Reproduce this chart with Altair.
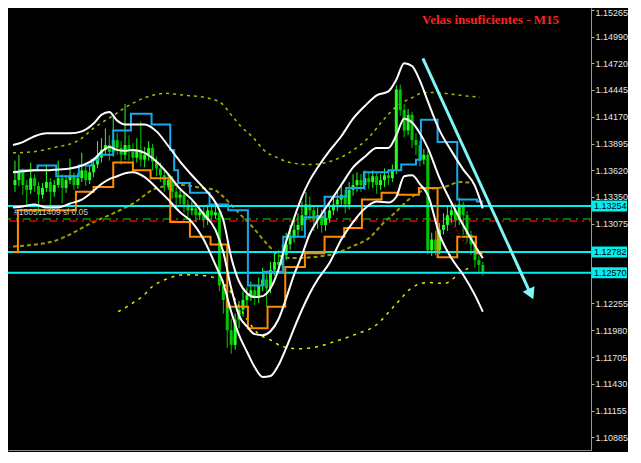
import altair as alt
import pandas as pd

# ---------------- data ----------------
closes = [1.1352,1.1360,1.1347,1.1342,1.1354,1.1346,1.1337,1.1344,1.1350,1.1340,1.1347,1.1354,1.1344,
          1.1352,1.1357,1.1347,1.1354,1.1362,1.1352,1.1360,
          1.1368,1.1375,1.1383,1.1388,1.1381,1.1393,1.1385,1.1378,1.1388,1.1383,
          1.1375,1.1383,1.1373,1.1378,1.1385,1.1371,
          1.1364,1.1357,1.1347,1.1352,1.1340,1.1334,1.1337,
          1.1327,1.1321,1.1323,1.1316,1.1319,1.1311,1.1321,1.1316,1.1319,
          1.1244,
          1.1229,1.1198,1.1183,1.1209,1.1219,1.1229,
          1.1234,1.1239,1.1231,1.1244,1.1250,1.1241,
          1.1260,1.1268,1.1265,1.1275,1.1286,1.1293,
          1.1301,1.1306,1.1316,1.1327,1.1321,1.1311,1.1316,1.1306,
          1.1313,1.1321,1.1327,1.1332,1.1337,1.1327,1.1342,1.1347,
          1.1352,1.1347,1.1354,1.1350,1.1356,1.1347,1.1352,1.1357,1.1354,1.1362,
          1.1445,
          1.1424,1.1403,1.1419,1.1393,1.1388,1.1373,1.1378,
          1.1280,
          1.1291,1.1280,1.1301,1.1306,
          1.1316,1.1321,1.1311,1.1327,1.1316,1.1296,
          1.1286,1.1270,1.1265,1.1258]
highs = [1.1372,1.1378,1.1364,1.1352,1.1370,1.1358,1.1350,1.1349,1.1368,1.1354,1.1352,1.1372,1.1358,
         1.1357,1.1374,1.1360,1.1359,1.1380,1.1366,1.1367,
         1.1375,1.1392,1.1395,1.1405,1.1398,1.1418,1.1400,1.1392,1.1430,1.1398,
         1.1390,1.1395,1.1412,1.1386,1.1392,1.1389,
         1.1376,1.1370,1.1362,1.1358,1.1356,1.1345,1.1342,
         1.1340,1.1332,1.1330,1.1328,1.1325,1.1324,1.1327,1.1326,1.1328,
         1.1322,
         1.1250,1.1235,1.1210,1.1215,1.1228,1.1238,
         1.1242,1.1248,1.1245,1.1252,1.1262,1.1256,
         1.1268,1.1278,1.1280,1.1286,1.1298,1.1306,
         1.1312,1.1318,1.1330,1.1340,1.1335,1.1326,1.1324,1.1322,
         1.1320,1.1330,1.1336,1.1342,1.1346,1.1342,1.1350,1.1358,
         1.1360,1.1358,1.1362,1.1360,1.1362,1.1360,1.1358,1.1364,1.1363,1.1368,
         1.1449,
         1.1450,1.1430,1.1425,1.1422,1.1400,1.1392,1.1384,
         1.1382,
         1.1298,1.1300,1.1308,1.1318,
         1.1325,1.1330,1.1328,1.1334,1.1330,1.1320,
         1.1300,1.1290,1.1275,1.1268]
lows = [1.1340,1.1346,1.1337,1.1325,1.1338,1.1340,1.1318,1.1333,1.1340,1.1322,1.1335,1.1344,1.1328,
        1.1339,1.1348,1.1342,1.1343,1.1350,1.1346,1.1348,
        1.1355,1.1364,1.1370,1.1378,1.1372,1.1376,1.1378,1.1368,1.1373,1.1372,
        1.1366,1.1370,1.1366,1.1365,1.1372,1.1362,
        1.1356,1.1350,1.1340,1.1342,1.1333,1.1326,1.1327,
        1.1319,1.1314,1.1316,1.1309,1.1311,1.1303,1.1306,1.1310,1.1312,
        1.1238,
        1.1215,1.1180,1.1174,1.1178,1.1200,1.1212,
        1.1222,1.1228,1.1224,1.1226,1.1238,1.1222,
        1.1236,1.1254,1.1258,1.1260,1.1270,1.1280,
        1.1288,1.1294,1.1300,1.1310,1.1314,1.1300,1.1302,1.1298,
        1.1300,1.1308,1.1316,1.1320,1.1326,1.1318,1.1322,1.1336,
        1.1340,1.1340,1.1342,1.1343,1.1344,1.1338,1.1342,1.1345,1.1347,1.1350,
        1.1358,
        1.1418,1.1396,1.1398,1.1385,1.1378,1.1366,1.1368,
        1.1276,
        1.1274,1.1275,1.1276,1.1296,
        1.1300,1.1308,1.1304,1.1306,1.1296,1.1288,
        1.1275,1.1262,1.1256,1.1254]
first_open = 1.1347

# band (white) lines on a common bar grid
band_bar = [-0.5,2,5,8,11,14,17,20, 22,24,26,28,30, 33,36,39,42,45,48,51,
            53,55,57,59,61,63,65,67,69,71,73,75,77, 80,83,86,89,92,95,
            97,99,101,103,105, 108,111,114,117,119]
band_up = [1.1388,1.1391,1.1397,1.1400,1.1400,1.1400,1.1402,1.1410,
           1.1419,1.1422,1.1413,1.1409,1.1409,
           1.1409,1.1402,1.1387,1.1371,1.1357,1.1344,1.1329,
           1.1311,1.1273,1.1248,1.1236,1.1232,1.1233,1.1241,1.1260,1.1289,1.1313,1.1335,1.1352,1.1365,
           1.1382,1.1397,1.1415,1.1428,1.1439,1.1443,
           1.1455,1.1472,1.1469,1.1454,1.1433,
           1.1403,1.1382,1.1363,1.1346,1.1323]
band_mid = [1.1360,1.1361,1.1362,1.1362,1.1363,1.1364,1.1367,1.1373,
            1.1381,1.1386,1.1383,1.1382,1.1383,
            1.1380,1.1371,1.1358,1.1343,1.1332,1.1317,1.1301,
            1.1278,1.1241,1.1213,1.1202,1.1194,1.1193,1.1197,1.1209,1.1231,1.1255,1.1275,1.1297,1.1311,
            1.1329,1.1347,1.1365,1.1376,1.1385,1.1385,
            1.1398,1.1415,1.1411,1.1400,1.1385,
            1.1354,1.1329,1.1306,1.1285,1.1272]
band_low = [1.1324,1.1325,1.1327,1.1324,1.1324,1.1328,1.1332,1.1341,
            1.1348,1.1353,1.1356,1.1359,1.1360,
            1.1355,1.1344,1.1332,1.1319,1.1309,1.1291,1.1265,
            1.1246,1.1217,1.1193,1.1176,1.1160,1.1150,1.1151,1.1162,1.1180,1.1200,1.1219,1.1236,1.1250,
            1.1267,1.1291,1.1309,1.1323,1.1330,1.1329,
            1.1335,1.1356,1.1357,1.1348,1.1337,
            1.1296,1.1272,1.1255,1.1234,1.1217]

# blue / orange channel steps
blue_bar = [-0.5,1.25,5.75,10.5,16.25,19.5,21.25,25,29.5,34.75,39.5,40.5,41.5,44.5,49.5,
            54.25,59.25,63.25,68.25,73.75,78.75,84.25,88.75,95,98.25,102,103.25,107.5,112.5,117.5,118.75]
blue_val = [1.1360,1.1362,1.1367,1.1356,1.1367,1.1373,1.1378,1.1403,1.1420,1.1409,1.1383,1.1362,1.1349,1.1339,1.1327,
            1.1321,1.1244,1.1258,1.1294,1.1314,1.1335,1.1344,1.1360,1.1362,1.1368,1.1373,1.1414,1.1391,1.1332,1.1330,1.1324]
orange_bar = [-0.5,0.75,15.5,20,25,30,34.5,39.5,44.5,49.75,54,59.25,64.25,68.75,73.75,78.75,83.75,
              88.25,93.25,97.5,102.75,107.5,112.5,117.25,119]
orange_val = [1.1278,1.1321,1.1340,1.1345,1.1370,1.1362,1.1354,1.1309,1.1294,1.1286,1.1222,1.1200,1.1222,1.1263,
              1.1277,1.1294,1.1303,1.1332,1.1339,1.1337,1.1344,1.1273,1.1294,1.1277,1.1277]

# yellow dotted envelopes
y1_bar = [-0.5,4.5,9.5,16.25,20.25,24.5,30,35,38.25,43.25,49.25,52.5,55,57.5,60.5,63.25,66.75,70,75,80,
          85,90.5,93.75,97.5,100.75,104.25,109.25,113.25,118.25]
y1_val = [1.1380,1.1381,1.1385,1.1393,1.1406,1.1417,1.1431,1.1439,1.1441,1.1439,1.1436,1.1431,1.1419,1.1407,
          1.1396,1.1383,1.1375,1.1370,1.1368,1.1371,1.1380,1.1398,1.1414,1.1429,1.1436,1.1442,1.1441,1.1439,1.1437]
y2_bar = [-0.5,9.5,19.5,30,36.25,42.5,47.5,50.75,53,56.75,60,64.25,67.5,70.75,75.75,80.75,85.75,90.5,93.25,
          96.75,100.75,104.25,109.25,113.25,116.75]
y2_val = [1.1284,1.1289,1.1308,1.1328,1.1344,1.1347,1.1344,1.1342,1.1335,1.1319,1.1306,1.1286,1.1274,1.1272,
          1.1273,1.1276,1.1284,1.1294,1.1306,1.1319,1.1334,1.1342,1.1345,1.1350,1.1349]
y3_bar = [26.25,30,32.5,35,38.25,43.25,48.25,51.75,54.25,57.5,61.75,65,68.25,72.5,76.75,81.75,86.75,91.75,
          96.75,100.75,105,109.25,113.25,115.5]
y3_val = [1.1217,1.1226,1.1233,1.1243,1.1250,1.1255,1.1254,1.1250,1.1241,1.1219,1.1195,1.1188,1.1181,1.1179,
          1.1181,1.1187,1.1194,1.1203,1.1224,1.1241,1.1247,1.1246,1.1257,1.1262]

# horizontal levels
cyan_levels = [1.13254, 1.12782, 1.12570]
cyan_labels = ["1.13254", "1.12782", "1.12570"]
green_level = 1.1312
red_level = 1.1310
red_dots_bar = [110.5, 115]
red_dots_val = [1.1311, 1.1285]

# trend arrow
arrow_bar = [103.75, 130.75]
arrow_val = [1.1477, 1.1239]
arrow_head_bar = [131.25]
arrow_head_val = [1.1235]

# price scale labels (1.12800 and 1.12525 sit under the cyan price boxes)
tick_values = [1.15265, 1.14990, 1.14720, 1.14445, 1.14170, 1.13895, 1.13620, 1.13350, 1.13075,
               1.12255, 1.11980, 1.11705, 1.11430, 1.11155, 1.10885]

title_text = "Velas insuficientes - M15"
order_text = "#180511409 sl 0.05"

# ---------------- build ----------------
n = len(closes)
opens = [first_open] + closes[:-1]
candles = pd.DataFrame({
    "bar": list(range(n)), "open": opens, "high": highs, "low": lows, "close": closes,
})
candles["dir"] = ["up" if c >= o else "down" for o, c in zip(opens, closes)]

W, H = 583, 442
xscale = alt.Scale(domain=[-0.5, 145.25], nice=False, zero=False)
yscale = alt.Scale(domain=[1.107517, 1.152855], nice=False, zero=False)
xaxis = alt.Axis(labels=False, ticks=False, grid=False, title=None, domainColor="#8C8C8C",
                 minExtent=0, maxExtent=1)
yaxis = alt.Axis(orient="right", values=tick_values, format=".5f", labelColor="#E6E6E6",
                 labelFont="Liberation Sans", labelFontSize=9, tickColor="#B0B0B0", tickSize=3,
                 labelPadding=1, domainColor="#9A9A9A", grid=False, title=None,
                 labelOffset={"condition": {"test": "datum.value > 1.152", "value": 3}, "value": 0},
                 minExtent=37, maxExtent=37, labelOverlap=False, labelBound=False, labelFlush=False)


def X(field):
    return alt.X(field, type="quantitative", scale=xscale, axis=xaxis)


def Y(field):
    return alt.Y(field, type="quantitative", scale=yscale, axis=yaxis)


def series(bars, vals):
    return pd.DataFrame({"bar": bars, "price": vals})


def line(bars, vals, color, width=1.5, dash=None, interp="monotone"):
    kw = dict(color=color, strokeWidth=width, interpolate=interp)
    if dash:
        kw["strokeDash"] = dash
    return alt.Chart(series(bars, vals)).mark_line(**kw).encode(x=X("bar"), y=Y("price"))


yl1 = line(y1_bar, y1_val, "#B5B500", 1.5, [3, 4])
yl2 = line(y2_bar, y2_val, "#9C9C00", 2, [4, 3])
yl3 = line(y3_bar, y3_val, "#E8E800", 1.5, [3, 5])

lev = pd.DataFrame({"price": cyan_levels, "label": cyan_labels})
cyan_lines = alt.Chart(lev).mark_rule(color="#00F0F0", strokeWidth=2).encode(y=Y("price"))

green_dd = alt.Chart(pd.DataFrame({"price": [green_level]})).mark_rule(
    color="#00A000", strokeWidth=1.5, strokeDash=[8, 5, 2, 5]).encode(y=Y("price"))
red_dd = alt.Chart(pd.DataFrame({"price": [red_level]})).mark_rule(
    color="#E00000", strokeWidth=1.5, strokeDash=[8, 5, 2, 5], strokeDashOffset=6).encode(y=Y("price"))

wicks = alt.Chart(candles).mark_rule(strokeWidth=1).encode(
    x=X("bar"), y=Y("low"), y2="high",
    color=alt.Color("dir:N", scale=alt.Scale(domain=["up", "down"], range=["#22FF22", "#00C800"]), legend=None))
bodies = alt.Chart(candles).mark_bar(size=3).encode(
    x=X("bar"), y=Y("open"), y2="close",
    color=alt.Color("dir:N", scale=alt.Scale(domain=["up", "down"], range=["#A6FFA6", "#00D000"]), legend=None))

orange = line(orange_bar, orange_val, "#FF8A00", 2, None, "step-after")
blue = line(blue_bar, blue_val, "#1AA8EC", 2, None, "step-after")

bands = alt.layer(
    line(band_bar, band_up, "#FFFFFF", 2),
    line(band_bar, band_mid, "#FFFFFF", 2),
    line(band_bar, band_low, "#FFFFFF", 2),
)

red_dots = line(red_dots_bar, red_dots_val, "#C80000", 2, [1, 3], "linear")

arrow = alt.Chart(series(arrow_bar, arrow_val)).mark_line(color="#7FF6F6", strokeWidth=3).encode(
    x=X("bar"), y=Y("price"))
head = alt.Chart(series(arrow_head_bar, arrow_head_val)).mark_point(
    shape="triangle-down", filled=True, size=170, angle=335, color="#7FF6F6", opacity=1).encode(
    x=X("bar"), y=Y("price"))

label_box = alt.Chart(lev).mark_rule(color="#00F0F0", strokeWidth=11).encode(
    x=alt.value(584), x2=alt.value(619), y=Y("price"))
label_txt = alt.Chart(lev).mark_text(align="left", baseline="middle", font="Liberation Sans",
                                     fontSize=9, color="#000000").encode(
    x=alt.value(586), y=Y("price"), text="label:N")

title = alt.Chart(pd.DataFrame({"t": [title_text]})).mark_text(
    align="left", baseline="middle", font="Liberation Serif", fontWeight="bold", fontSize=13,
    color="#FF2020").encode(x=alt.value(414), y=alt.value(12), text="t:N")
order = alt.Chart(pd.DataFrame({"t": [order_text]})).mark_text(
    align="left", baseline="middle", font="Liberation Sans", fontSize=8.5,
    color="#C8C8C8").encode(x=alt.value(6), y=alt.value(204), text="t:N")

chart = alt.layer(
    yl1, yl2, yl3, green_dd, red_dd, wicks, bodies, cyan_lines, orange, blue, bands,
    red_dots, arrow, head, label_box, label_txt, title, order,
).properties(
    width=W, height=H, background="#000000",
    autosize=alt.AutoSizeParams(type="none"),
    padding={"left": 0, "top": 0, "right": 37, "bottom": 2},
).configure_view(stroke=None, fill="#000000")

chart.save("out.html", embed_options={"renderer": "svg", "actions": False})
